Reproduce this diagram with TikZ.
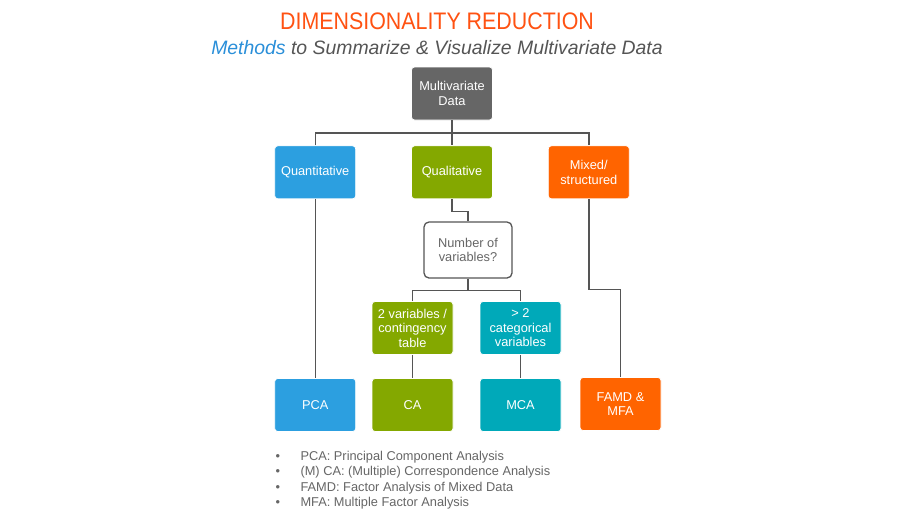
\documentclass[tikz,border=0pt]{standalone}
\usepackage{fontspec}
\setmainfont{Liberation Sans}
\usepackage{tikz}
\usetikzlibrary{positioning}
\definecolor{dgray}{HTML}{666666}
\definecolor{qblue}{HTML}{2C9FE0}
\definecolor{qgreen}{HTML}{84A800}
\definecolor{morange}{HTML}{FF6400}
\definecolor{mteal}{HTML}{00A9B9}
\definecolor{ttl}{HTML}{FF5212}
\definecolor{mblue}{HTML}{2A8FD9}
\definecolor{ln}{HTML}{555555}
\tikzstyle{box}=[rounded corners=3pt, draw=white, line width=0.8pt, text=white, align=center, minimum width=81pt, minimum height=53pt, inner sep=2pt, font=\fontsize{12.8}{14.5}\selectfont]
\tikzstyle{ask}=[rounded corners=5pt, draw=ln, line width=1.3pt, fill=white, text=dgray, align=center, minimum width=88pt, minimum height=56pt, font=\fontsize{12.8}{14.5}\selectfont]
\tikzstyle{wire}=[draw=ln, line width=1.4pt]

\begin{document}
\begin{tikzpicture}[x=1pt,y=-1pt]
        \useasboundingbox[fill=white] (0,0) rectangle (900,520);
        \node [text=ttl, font=\fontsize{23}{25}\selectfont] (title) at (437,21) {\scalebox{0.93}[1.04]{DIMENSIONALITY REDUCTION}};
        \node [text=ln, font=\fontsize{19.4}{21}\selectfont\itshape] (sub) at (437,48) {\textcolor{mblue}{Methods} to Summarize \& Visualize Multivariate Data};
        \node [box, fill=dgray] (multi) at (452,93.5) {Multivariate\\Data};
        \node [box, fill=qgreen] (qual) [below=25pt of multi] {Qualitative};
        \node [box, fill=qblue] (quant) [left=55pt of qual] {Quantitative};
        \node [box, fill=morange] (mixed) [right=55pt of qual] {Mixed/\\structured};
        \node [ask] (num) at (468,250) {Number of\\variables?};
        \node [box, fill=qgreen] (two) at (412.5,328) {2 variables /\\contingency\\table};
        \node [box, fill=mteal] (more) at (520.5,328) {> 2\\categorical\\variables};
        \node [box, fill=qblue] (pca) at (quant |- 0,405) {PCA};
        \node [box, fill=qgreen] (ca) at (two |- 0,405) {CA};
        \node [box, fill=mteal] (mca) at (more |- 0,405) {MCA};
        \node [box, fill=morange] (famd) at (620.5,404) {FAMD \&\\MFA};
        \coordinate (j1) at (452,133);
        \draw[wire] (multi.south) -- (qual.north);
        \draw[wire] (quant.north) |- (j1) -| (mixed.north);
        \draw[wire] (qual.south) -- ++(0,12) -| (num.north);
        \draw[wire] (num.south) -- ++(0,12) coordinate (j2);
        \draw[wire] (two.north) |- (j2) -| (more.north);
        \draw[wire] (quant.south) -- (pca.north);
        \draw[wire] (two.south) -- (ca.north);
        \draw[wire] (more.south) -- (mca.north);
        \draw[wire] (mixed.south) -- ++(0,90) -| (famd.north);
        \node [anchor=north west, text=dgray, align=left, font=\fontsize{12.8}{15.4}\selectfont] (notes) at (272,447.5) {%
          \makebox[25pt][l]{\textbullet}PCA: Principal Component Analysis\\
          \makebox[25pt][l]{\textbullet}(M) CA: (Multiple) Correspondence Analysis\\
          \makebox[25pt][l]{\textbullet}FAMD: Factor Analysis of Mixed Data\\
          \makebox[25pt][l]{\textbullet}MFA: Multiple Factor Analysis};
    \end{tikzpicture}
\end{document}
